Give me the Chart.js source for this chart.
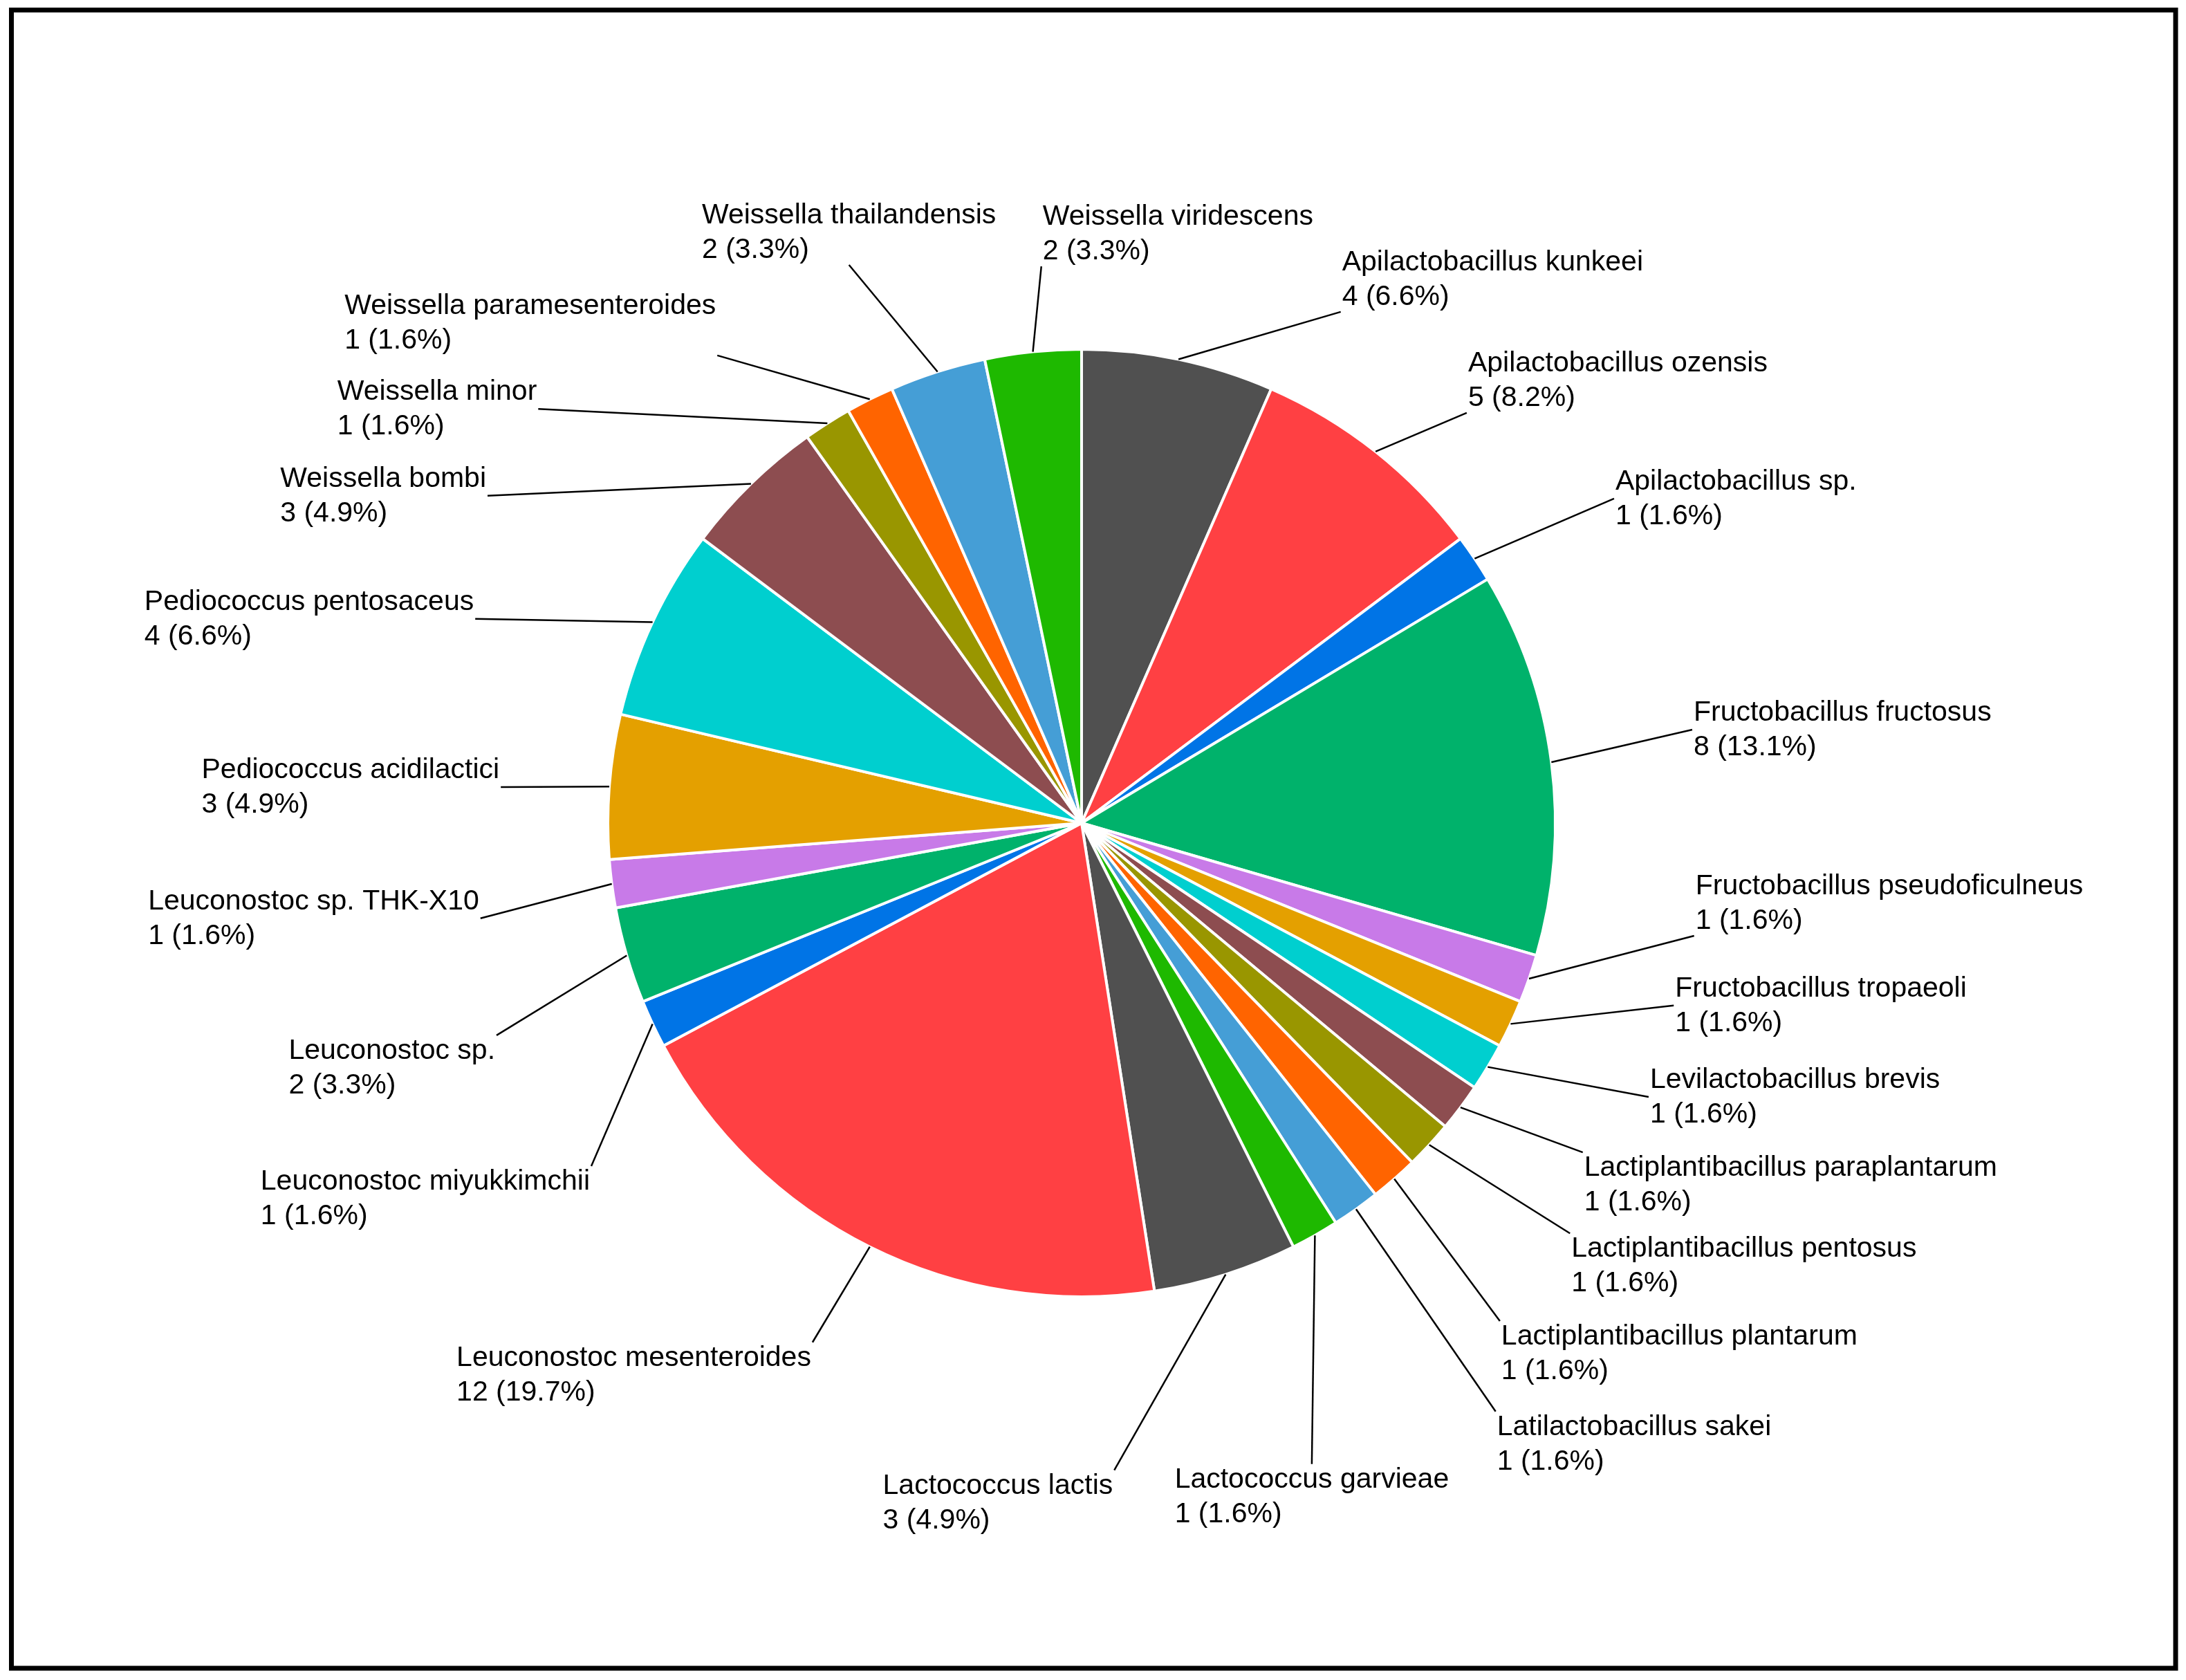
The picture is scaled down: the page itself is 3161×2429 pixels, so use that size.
<!DOCTYPE html>
<html>
<head>
<meta charset="utf-8">
<script src="https://cdn.jsdelivr.net/npm/chart.js@4.4.1/dist/chart.umd.min.js"></script>
<style>
  html, body { margin: 0; padding: 0; background: #ffffff; }
  #wrap { width: 3161px; height: 2429px; }
</style>
</head>
<body>
<div id="wrap"><canvas id="speciesPie" width="3161" height="2429"></canvas></div>
<script>
// species and isolate counts, clockwise from 12 o'clock
var species = [
    'Apilactobacillus kunkeei', 'Apilactobacillus ozensis', 'Apilactobacillus sp.',
    'Fructobacillus fructosus', 'Fructobacillus pseudoficulneus', 'Fructobacillus tropaeoli',
    'Levilactobacillus brevis', 'Lactiplantibacillus paraplantarum', 'Lactiplantibacillus pentosus',
    'Lactiplantibacillus plantarum', 'Latilactobacillus sakei', 'Lactococcus garvieae',
    'Lactococcus lactis', 'Leuconostoc mesenteroides', 'Leuconostoc miyukkimchii',
    'Leuconostoc sp.', 'Leuconostoc sp. THK-X10', 'Pediococcus acidilactici',
    'Pediococcus pentosaceus', 'Weissella bombi', 'Weissella minor',
    'Weissella paramesenteroides', 'Weissella thailandensis', 'Weissella viridescens'
];
var counts = [4, 5, 1, 8, 1, 1, 1, 1, 1, 1, 1, 1, 3, 12, 1, 2, 1, 3, 4, 3, 1, 1, 2, 2];

// palette repeats every 12 slices
var palette = ['#505050', '#FF4043', '#0074E6', '#00B26B', '#C87AE8', '#E4A000',
               '#00CFCF', '#8D4D50', '#999600', '#FF6400', '#459ED6', '#1EB900'];

// label anchor (end of leader line) in pie radii from centre, and which side of the text block it touches
var labelPos = [
    [0.547, -1.079, 'bl'], [0.813, -0.866, 'bl'], [1.124, -0.685, 'ml'],
    [1.289, -0.197, 'ml'], [1.293, 0.238, 'bl'], [1.250, 0.385, 'ml'],
    [1.197, 0.578, 'ml'], [1.058, 0.695, 'tl'], [1.031, 0.866, 'tl'],
    [0.883, 1.051, 'tl'], [0.874, 1.242, 'tl'], [0.486, 1.353, 'tc'],
    [0.069, 1.366, 'tr'], [-0.568, 1.096, 'tr'], [-1.035, 0.724, 'tr'],
    [-1.235, 0.448, 'tr'], [-1.269, 0.201, 'mr'], [-1.226, -0.076, 'mr'],
    [-1.280, -0.431, 'mr'], [-1.254, -0.691, 'mr'], [-1.147, -0.874, 'mr'],
    [-0.769, -0.987, 'br'], [-0.491, -1.178, 'bc'], [-0.085, -1.175, 'bl']
];

var total = counts.reduce(function (a, b) { return a + b; }, 0);

var frameBox = {
    id: 'frameBox',
    afterDraw: function (chart) {
        var ctx = chart.ctx;
        ctx.save();
        ctx.strokeStyle = '#000000';
        ctx.lineWidth = 7;
        ctx.strokeRect(16.5, 14.5, 3146 - 16.5, 2412 - 14.5);
        ctx.restore();
    }
};

var pieLabels = {
    id: 'pieLabels',
    afterDatasetsDraw: function (chart) {
        var ctx = chart.ctx;
        var arcs = chart.getDatasetMeta(0).data;
        var lineH = 50;
        ctx.save();
        ctx.font = '41px "Liberation Sans", Arial, sans-serif';
        ctx.fillStyle = '#000000';
        ctx.strokeStyle = '#000000';
        ctx.lineWidth = 2.5;
        ctx.textBaseline = 'alphabetic';
        ctx.textAlign = 'left';
        arcs.forEach(function (arc, i) {
            var p = arc.getProps(['x', 'y', 'startAngle', 'endAngle', 'outerRadius'], true);
            var mid = (p.startAngle + p.endAngle) / 2;
            var sx = p.x + Math.cos(mid) * p.outerRadius;
            var sy = p.y + Math.sin(mid) * p.outerRadius;
            var ax = p.x + labelPos[i][0] * p.outerRadius;
            var ay = p.y + labelPos[i][1] * p.outerRadius;

            ctx.beginPath();
            ctx.moveTo(sx, sy);
            ctx.lineTo(ax, ay);
            ctx.stroke();

            var line1 = species[i];
            var line2 = counts[i] + ' (' + (counts[i] / total * 100).toFixed(1) + '%)';
            var w = Math.max(ctx.measureText(line1).width, ctx.measureText(line2).width);

            var mode = labelPos[i][2];
            var base;
            if (mode[0] === 't') base = ay + 34;
            else if (mode[0] === 'm') base = ay - 13;
            else base = ay - 60;
            var left;
            if (mode[1] === 'l') left = ax + 2;
            else if (mode[1] === 'r') left = ax - 2 - w;
            else left = ax - w / 2;

            ctx.fillText(line1, left, base);
            ctx.fillText(line2, left, base + lineH);
        });
        ctx.restore();
    }
};

new Chart(document.getElementById('speciesPie').getContext('2d'), {
    type: 'pie',
    data: {
        labels: species,
        datasets: [{
            data: counts,
            backgroundColor: counts.map(function (c, i) { return palette[i % palette.length]; }),
            borderColor: '#ffffff',
            borderWidth: 4
        }]
    },
    options: {
        responsive: false,
        devicePixelRatio: 1,
        animation: false,
        layout: {
            padding: { left: 877, right: 910, top: 503, bottom: 552 }
        },
        plugins: {
            legend: { display: false },
            tooltip: { enabled: false }
        }
    },
    plugins: [pieLabels, frameBox]
});
</script>
</body>
</html>
